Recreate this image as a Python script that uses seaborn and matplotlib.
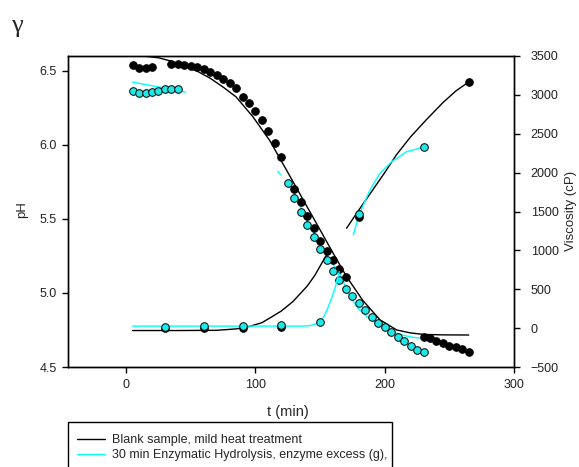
import matplotlib
matplotlib.use("Agg")
import matplotlib.pyplot as plt
from matplotlib.lines import Line2D
from matplotlib.patches import Rectangle
import seaborn as sns
import pandas as pd
import numpy as np

# ---------------- data ----------------
# pH measurements (left axis)
blank_ph_t = [5, 10, 15, 20, 35, 40, 45, 50, 55, 60, 65, 70, 75, 80, 85, 90, 95, 100, 105, 110,
              115, 120, 130, 135, 140, 145, 150, 155, 160, 165, 170,
              230, 235, 240, 245, 250, 255, 260, 265]
blank_ph = [6.538, 6.522, 6.522, 6.529, 6.548, 6.545, 6.54, 6.534, 6.529, 6.514, 6.495, 6.473, 6.446,
            6.42, 6.383, 6.324, 6.28, 6.23, 6.169, 6.095, 6.01, 5.92, 5.70, 5.615, 5.522, 5.437,
            5.352, 5.286, 5.225, 5.162, 5.106,
            4.705, 4.694, 4.676, 4.66, 4.644, 4.633, 4.62, 4.601]

enz_ph_t = [5, 10, 15, 20, 25, 30, 35, 40,
            125, 130, 135, 140, 145, 150, 155, 160, 165, 170, 175, 180, 185, 190, 195, 200,
            205, 210, 215, 220, 225, 230]
enz_ph = [6.367, 6.351, 6.353, 6.356, 6.365, 6.374, 6.38, 6.38,
          5.741, 5.64, 5.547, 5.459, 5.378, 5.297, 5.225, 5.149, 5.088, 5.03, 4.98, 4.932,
          4.885, 4.84, 4.80, 4.768, 4.734, 4.705, 4.674, 4.644, 4.615, 4.60]

# viscosity measurements (right axis)
blank_visc_t = [30, 60, 90, 120, 180, 265]
blank_visc = [0, 5, 8, 15, 1427, 3166]
enz_visc_t = [30, 60, 90, 120, 150, 180, 230]
enz_visc = [17, 21, 30, 42, 85, 1469, 2334]

# fitted curves
blank_ph_fit_t = [12.9, 25, 35, 45, 55, 65, 75, 85, 98, 111, 124, 137, 150, 160, 170.5, 183,
                  196.4, 209.3, 220, 230, 245, 265]
blank_ph_fit = [6.600, 6.588, 6.565, 6.532, 6.497, 6.45, 6.39, 6.324, 6.19, 6.03, 5.83, 5.628,
                5.426, 5.27, 5.11, 4.95, 4.818, 4.75, 4.73, 4.72, 4.717, 4.716]

enz_ph_fit_a_t = [5, 46]
enz_ph_fit_a = [6.424, 6.356]
enz_ph_fit_b_t = [117.3, 119.3]
enz_ph_fit_b = [5.822, 5.80]
enz_ph_fit_c_t = [125, 130, 135, 140, 145, 150, 155, 160, 164.8, 170, 175, 180, 185, 190, 196,
                  202, 209, 215, 222, 230]
enz_ph_fit_c = [5.76, 5.67, 5.58, 5.49, 5.405, 5.325, 5.255, 5.19, 5.144, 5.03, 4.95, 4.89,
                4.85, 4.815, 4.784, 4.755, 4.728, 4.713, 4.70, 4.694]

blank_visc_fit_a_t = [5, 40, 70, 85, 95, 105, 111, 120, 129, 135, 140, 146, 152, 157]
blank_visc_fit_a = [-31, -31, -28, -10, 20, 70, 129, 220, 342, 450, 540, 680, 856, 1000]
blank_visc_fit_b_t = [170.5, 180, 190, 200, 209, 220, 232, 245, 255, 265]
blank_visc_fit_b = [1285, 1520, 1760, 2000, 2228, 2460, 2677, 2900, 3050, 3166]

enz_visc_fit_a_t = [5, 135, 140, 143, 147, 150, 153, 156, 159, 162, 164.8]
enz_visc_fit_a = [26, 26, 28, 35, 55, 85, 150, 260, 390, 540, 727]
enz_visc_fit_b_t = [175.7, 180.3, 188.6, 196.3, 205.4, 217, 230]
enz_visc_fit_b = [1199, 1465, 1778, 1992, 2141, 2270, 2326]

legend_labels = ["Blank sample, mild heat treatment",
                 "30 min Enzymatic Hydrolysis, enzyme excess (g),"]

# ---------------- style ----------------
sns.set_style("white")
plt.rcParams['font.family'] = ['Liberation Sans', 'DejaVu Sans']
plt.rcParams['axes.linewidth'] = 1.0

BLACK = "#000000"
CYAN = "#00ffff"
CYAN_M = "#1ee8e8"

W, H = 579, 467
fig = plt.figure(figsize=(W / 100, H / 100), dpi=100)
L, R, T, B = 68, 514, 56, 367
ax = fig.add_axes([L / W, (H - B) / H, (R - L) / W, (B - T) / H])
ax2 = ax.twinx()


def line(axis, t, v, color):
    df = pd.DataFrame({"t": t, "v": v})
    sns.lineplot(data=df, x="t", y="v", ax=axis, color=color, lw=1.0, sort=False,
                 estimator=None, legend=False)


def pts(axis, t, v, face):
    df = pd.DataFrame({"t": t, "v": v})
    sns.scatterplot(data=df, x="t", y="v", ax=axis, color=face, edgecolor="black",
                    linewidth=0.7, s=30, legend=False, zorder=3)


# pH axis
pts(ax, blank_ph_t, blank_ph, BLACK)
line(ax, blank_ph_fit_t, blank_ph_fit, BLACK)
pts(ax, enz_ph_t, enz_ph, CYAN_M)
line(ax, enz_ph_fit_a_t, enz_ph_fit_a, CYAN)
line(ax, enz_ph_fit_b_t, enz_ph_fit_b, CYAN)
line(ax, enz_ph_fit_c_t, enz_ph_fit_c, CYAN)

# viscosity axis
line(ax2, blank_visc_fit_a_t, blank_visc_fit_a, BLACK)
line(ax2, blank_visc_fit_b_t, blank_visc_fit_b, BLACK)
pts(ax2, blank_visc_t, blank_visc, BLACK)
line(ax2, enz_visc_fit_a_t, enz_visc_fit_a, CYAN)
line(ax2, enz_visc_fit_b_t, enz_visc_fit_b, CYAN)
pts(ax2, enz_visc_t, enz_visc, CYAN_M)

ax.set_xlim(-45, 300)
ax.set_ylim(4.5, 6.6)
ax2.set_ylim(-500, 3500)
ax.set_xticks([0, 100, 200, 300])
ax.set_yticks([4.5, 5.0, 5.5, 6.0, 6.5])
ax.set_yticklabels(["4.5", "5.0", "5.5", "6.0", "6.5"])
ax2.set_yticks(list(range(-500, 3501, 500)))
ax.set_xlabel("")
ax.set_ylabel("")
ax2.set_xlabel("")
ax2.set_ylabel("")

for a in (ax, ax2):
    for s in a.spines.values():
        s.set_visible(True)
        s.set_color("black")
        s.set_linewidth(1.0)
ax.tick_params(axis="x", direction="out", length=4, width=1, labelsize=9, pad=5,
               bottom=True, top=False, colors="black")
ax.tick_params(axis="y", direction="out", length=4, width=1, labelsize=9, pad=4,
               left=True, right=False, colors="black")
ax2.tick_params(axis="y", direction="out", length=4, width=1, labelsize=9, pad=8,
                right=True, left=False, colors="black")
for lab in ax.get_xticklabels() + ax.get_yticklabels() + ax2.get_yticklabels():
    lab.set_color("#222222")

# axis titles
fig.text(288 / W, 1 - 412 / H, "t (min)", ha="center", va="center", fontsize=10.5)
fig.text(22 / W, 1 - 210 / H, "pH", ha="center", va="center", rotation=90, fontsize=9.5)
fig.text(571 / W, 1 - 211 / H, "Viscosity (cP)", ha="center", va="center", rotation=90,
         fontsize=9.5)
fig.text(17 / W, 1 - 26 / H, "γ", ha="center", va="center", fontsize=19,
         family=["Liberation Serif", "DejaVu Serif"])

# legend (frame drawn separately; it runs past the bottom edge of the figure)
handles = [Line2D([], [], color=BLACK, lw=1.0), Line2D([], [], color=CYAN, lw=1.0)]
fig.legend(handles, legend_labels, loc="upper left",
           bbox_to_anchor=(77 / W, 1 - 434 / H), bbox_transform=fig.transFigure,
           frameon=False, fontsize=9, handlelength=2.2, handletextpad=0.6, borderpad=0,
           labelspacing=0.25, borderaxespad=0)
fig.add_artist(Rectangle((L / W, -0.1), (392 - L) / W, (1 - 422 / H) + 0.1,
                         transform=fig.transFigure, fill=False, edgecolor="black",
                         linewidth=1.0, clip_on=False))

fig.savefig("out.png", dpi=100)
